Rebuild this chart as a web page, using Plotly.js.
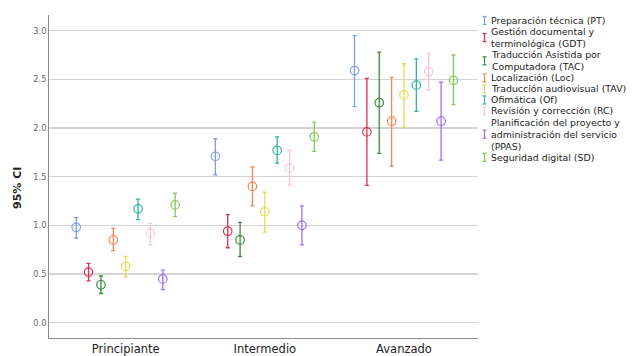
<!DOCTYPE html>
<html>
<head>
<meta charset="utf-8">
<script src="https://cdn.plot.ly/plotly-3.0.1.min.js"></script>
<style>html,body{margin:0;padding:0;background:#fff;}#chart{width:633px;height:356px;}</style>
</head>
<body>
<div id="chart"></div>
<script>
// ---- data ----
const categories = ['Principiante', 'Intermedio', 'Avanzado'];
const seriesNames = [
  'Preparación técnica (PT)',
  'Gestión documental y terminológica (GDT)',
  'Traducción Asistida por Computadora (TAC)',
  'Localización (Loc)',
  'Traducción audiovisual (TAV)',
  'Ofimática (Of)',
  'Revisión y corrección (RC)',
  'Planificación del proyecto y administración del servicio (PPAS)',
  'Seguridad digital (SD)'
];
const legendLines = [
  ['Preparación técnica (PT)'],
  ['Gestión documental y', 'terminológica (GDT)'],
  ['Traducción Asistida por', 'Computadora (TAC)'],
  ['Localización (Loc)'],
  ['Traducción audiovisual (TAV)'],
  ['Ofimática (Of)'],
  ['Revisión y corrección (RC)'],
  ['Planificación del proyecto y', 'administración del servicio', '(PPAS)'],
  ['Seguridad digital (SD)']
];
const seriesColors = ['#79a1e2', '#d8314f', '#3d8b3d', '#f0875a', '#e6dc52', '#2fb3aa', '#f6c4d6', '#a070f0', '#86c85e'];

// mean and 95% CI bounds, one value per series (PT, GDT, TAC, Loc, TAV, Of, RC, PPAS, SD)
const meanPrincipiante = [0.98, 0.52, 0.39, 0.85, 0.58, 1.17, 0.92, 0.45, 1.21];
const lowPrincipiante  = [0.87, 0.43, 0.30, 0.74, 0.47, 1.06, 0.80, 0.34, 1.09];
const highPrincipiante = [1.08, 0.61, 0.48, 0.97, 0.68, 1.27, 1.02, 0.54, 1.33];

const meanIntermedio = [1.71, 0.94, 0.85, 1.40, 1.14, 1.77, 1.59, 1.00, 1.91];
const lowIntermedio  = [1.52, 0.77, 0.68, 1.20, 0.93, 1.64, 1.41, 0.80, 1.76];
const highIntermedio = [1.89, 1.11, 1.03, 1.60, 1.34, 1.91, 1.77, 1.20, 2.06];

const meanAvanzado = [2.59, 1.96, 2.26, 2.07, 2.34, 2.44, 2.58, 2.07, 2.49];
const lowAvanzado  = [2.22, 1.41, 1.74, 1.61, 2.01, 2.17, 2.39, 1.67, 2.24];
const highAvanzado = [2.95, 2.51, 2.78, 2.52, 2.66, 2.71, 2.77, 2.47, 2.75];

const yTickVals = [0, 0.5, 1, 1.5, 2, 2.5, 3];
const yTitle = '95% CI';

// ---- build traces ----
const means = [meanPrincipiante, meanIntermedio, meanAvanzado];
const lows = [lowPrincipiante, lowIntermedio, lowAvanzado];
const highs = [highPrincipiante, highIntermedio, highAvanzado];

const traces = seriesNames.map((name, s) => {
  const y = means.map(m => m[s]);
  const plus = highs.map((h, c) => +(h[s] - means[c][s]).toFixed(3));
  const minus = lows.map((l, c) => +(means[c][s] - l[s]).toFixed(3));
  return {
    type: 'scatter',
    mode: 'markers',
    name: name,
    x: categories,
    y: y,
    marker: {symbol: 'circle-open', size: 8.5, color: seriesColors[s], line: {width: 1.2, color: seriesColors[s]}},
    error_y: {type: 'data', symmetric: false, array: plus, arrayminus: minus,
              color: seriesColors[s], thickness: 1.3, width: 2},
    showlegend: false,
    hoverinfo: 'skip'
  };
});

// ---- compact legend (annotations + glyph shapes) ----
const FONT = 'DejaVu Sans, sans-serif';
const L = 49, R = 155, T = 15, B = 18, W = 633, H = 356;
const pw = W - L - R, ph = H - T - B;
const px2x = p => (p - L) / pw;
const py2y = p => (H - B - p) / ph;
const legSize = 9.4, lineStep = 1.3 * legSize, itemGap = 11;
const annotations = [];
const shapes = [];
let yPos = 20.5;
legendLines.forEach((lines, s) => {
  const n = lines.length;
  const yc = yPos + (n - 1) * lineStep / 2;
  annotations.push({
    xref: 'paper', yref: 'paper', x: px2x(490), y: py2y(yc),
    xanchor: 'left', yanchor: 'middle', align: 'left', showarrow: false, borderpad: 0,
    text: lines.join('<br>'), font: {family: FONT, size: legSize, color: '#222'}
  });
  const gx = px2x(484.5), gy = py2y(yc);
  const c = seriesColors[s];
  [[0, 0, -4, 4], [-2, 2, 4, 4], [-2, 2, -4, -4]].forEach(([x0, x1, y0, y1]) => {
    shapes.push({type: 'line', xref: 'paper', yref: 'paper', xsizemode: 'pixel', ysizemode: 'pixel',
      xanchor: gx, yanchor: gy, x0: x0, x1: x1, y0: y0, y1: y1, line: {color: c, width: 1.2}});
  });
  yPos += (n - 1) * lineStep + itemGap;
});

// y-axis title (placed like the reference, slightly below plot centre)
annotations.push({
  xref: 'paper', yref: 'paper', x: px2x(17), y: py2y(188),
  xanchor: 'center', yanchor: 'middle', showarrow: false, textangle: -90,
  text: yTitle, font: {family: FONT, size: 11, color: '#222', weight: 'bold'}
});

const layout = {
  width: W, height: H,
  margin: {l: L, r: R, t: T, b: B, pad: 0},
  paper_bgcolor: '#fff', plot_bgcolor: '#fff',
  showlegend: false,
  scattermode: 'group',
  scattergap: 0.2,
  xaxis: {
    type: 'category',
    range: [-0.551, 2.532],
    showgrid: false, zeroline: false,
    showline: true, linecolor: '#8a8a8a', linewidth: 1,
    ticks: '', ticklen: 0,
    tickfont: {family: FONT, size: 11.5, color: '#222'},
    automargin: false
  },
  yaxis: {
    range: [-0.157, 3.161],
    tickvals: yTickVals, tickformat: '.1f',
    showgrid: true, gridcolor: '#d4d4d4', gridwidth: 1.2,
    zeroline: false,
    showline: true, linecolor: '#8a8a8a', linewidth: 1,
    ticks: '',
    tickfont: {family: FONT, size: 8.2, color: '#666'},
    automargin: false
  },
  annotations: annotations,
  shapes: shapes
};

Plotly.newPlot('chart', traces, layout, {displayModeBar: false, staticPlot: true});
</script>
</body>
</html>
